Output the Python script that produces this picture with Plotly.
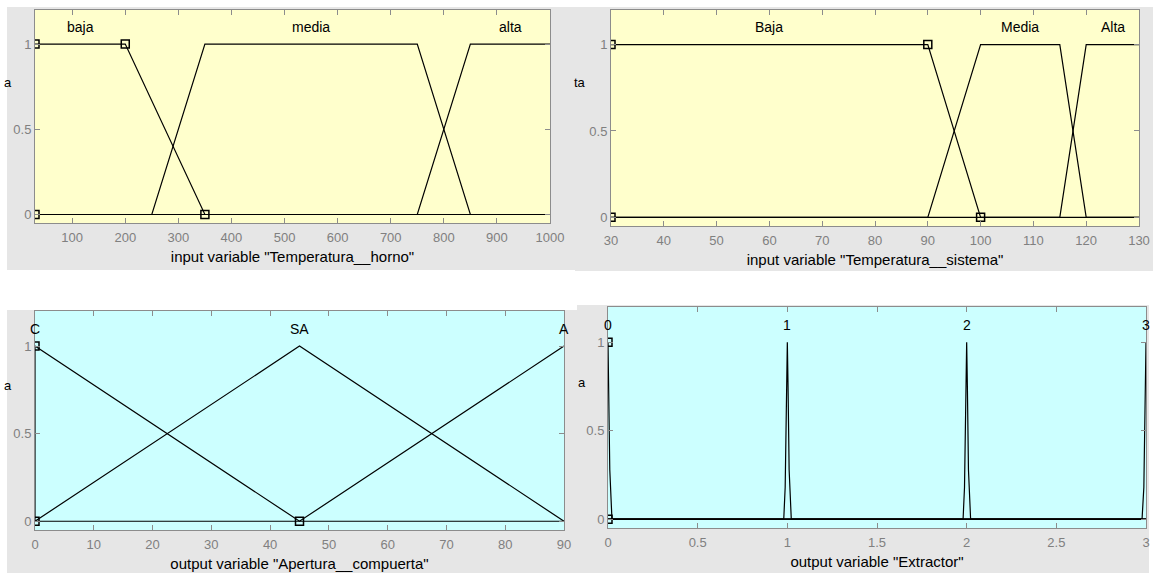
import plotly.graph_objects as go

W, H = 1153, 573

# ---------------- data ----------------
# Panel 1: input "Temperatura__horno"
horno_range = [30, 1000]
horno_ticks = [100, 200, 300, 400, 500, 600, 700, 800, 900, 1000]
horno_names = ["baja", "media", "alta"]
horno_label_x = [115, 550, 925]
horno_mf_x = [[30, 30, 200, 350, 1000],
              [30, 250, 350, 750, 850, 1000],
              [30, 750, 850, 1000]]
horno_mf_y = [[1, 1, 1, 0, 0],
              [0, 0, 1, 1, 0, 0],
              [0, 0, 1, 1]]
horno_sel_x = [30, 30, 200, 350]
horno_sel_y = [0, 1, 1, 0]

# Panel 2: input "Temperatura__sistema"
sist_range = [30, 130]
sist_ticks = [30, 40, 50, 60, 70, 80, 90, 100, 110, 120, 130]
sist_names = ["Baja", "Media", "Alta"]
sist_label_x = [60, 107.5, 125]
sist_mf_x = [[30, 30, 90, 100, 130],
             [30, 90, 100, 115, 120, 130],
             [30, 115, 120, 130]]
sist_mf_y = [[1, 1, 1, 0, 0],
             [0, 0, 1, 1, 0, 0],
             [0, 0, 1, 1]]
sist_sel_x = [30, 30, 90, 100]
sist_sel_y = [0, 1, 1, 0]

# Panel 3: output "Apertura__compuerta"
ap_range = [0, 90]
ap_ticks = [0, 10, 20, 30, 40, 50, 60, 70, 80, 90]
ap_names = ["C", "SA", "A"]
ap_label_x = [0, 45, 90]
ap_mf_x = [[0, 0, 45, 90],
           [0, 45, 90],
           [0, 45, 90, 90]]
ap_mf_y = [[0, 1, 0, 0],
           [0, 1, 0],
           [0, 0, 1, 1]]
ap_sel_x = [0, 0, 45]
ap_sel_y = [0, 1, 0]

# Panel 4: output "Extractor" (narrow spikes at 0,1,2,3)
ex_range = [0, 3]
ex_ticks = [0, 0.5, 1, 1.5, 2, 2.5, 3]
ex_tick_text = ["0", "0.5", "1", "1.5", "2", "2.5", "3"]
ex_names = ["0", "1", "2", "3"]
ex_label_x = [0, 1, 2, 3]
ex_mf_x = [[0, 0.004, 0.01, 0.022, 3],
           [0, 0.98, 0.988, 0.996, 1, 1.004, 1.01, 1.022, 3],
           [0, 1.98, 1.988, 1.996, 2, 2.004, 2.01, 2.022, 3],
           [0, 2.978, 2.988, 2.996, 3]]
ex_mf_y = [[1, 0.75, 0.28, 0, 0],
           [0, 0, 0.18, 0.83, 1, 0.75, 0.28, 0, 0],
           [0, 0, 0.18, 0.83, 1, 0.75, 0.28, 0, 0],
           [0, 0, 0.18, 0.83, 1]]
ex_sel_x = [0, 0]
ex_sel_y = [0, 1]

titles = ['input variable "Temperatura__horno"',
          'input variable "Temperatura__sistema"',
          'output variable "Apertura__compuerta"',
          'output variable "Extractor"']

# ---------------- layout geometry (pixels) ----------------
plot_px = [(35, 550, 10, 223), (611, 1139, 10, 226),
           (35, 564, 311, 530), (608, 1146, 307, 528)]
panel_px = [(7, 575, 7, 270), (575, 1153, 7, 271),
            (7, 577, 310, 573), (577, 1149, 305, 573)]
plot_bg = ["#ffffcc", "#ffffcc", "#ccffff", "#ccffff"]
FIG_GRAY = "#e6e6e6"
AX_GRAY = "#8c8c8c"
TICKTXT = "#808080"
FONT = "Liberation Sans, Arial, sans-serif"


def px_x(v):
    return v / W


def px_y(v):
    return 1 - v / H


fig = go.Figure()
shapes = []
for (x0, x1, y0, y1) in panel_px:
    shapes.append(dict(type="rect", xref="paper", yref="paper", layer="below",
                       x0=px_x(x0), x1=px_x(x1), y0=px_y(y1), y1=px_y(y0),
                       fillcolor=FIG_GRAY, line=dict(width=0)))
for (x0, x1, y0, y1), bg in zip(plot_px, plot_bg):
    shapes.append(dict(type="rect", xref="paper", yref="paper", layer="below",
                       x0=px_x(x0), x1=px_x(x1), y0=px_y(y1), y1=px_y(y0),
                       fillcolor=bg, line=dict(width=0)))

panels = [
    (horno_range, horno_ticks, [str(t) for t in horno_ticks], horno_names, horno_label_x,
     horno_mf_x, horno_mf_y, horno_sel_x, horno_sel_y),
    (sist_range, sist_ticks, [str(t) for t in sist_ticks], sist_names, sist_label_x,
     sist_mf_x, sist_mf_y, sist_sel_x, sist_sel_y),
    (ap_range, ap_ticks, [str(t) for t in ap_ticks], ap_names, ap_label_x,
     ap_mf_x, ap_mf_y, ap_sel_x, ap_sel_y),
    (ex_range, ex_ticks, ex_tick_text, ex_names, ex_label_x,
     ex_mf_x, ex_mf_y, ex_sel_x, ex_sel_y),
]

annotations = []
layout_axes = {}
for i, (rng, ticks, ticktext, names, lx, mfx, mfy, sx, sy) in enumerate(panels):
    n = i + 1
    xa = "x" if n == 1 else f"x{n}"
    ya = "y" if n == 1 else f"y{n}"
    for xs, ys in zip(mfx, mfy):
        fig.add_trace(go.Scatter(x=xs, y=ys, mode="lines", xaxis=xa, yaxis=ya,
                                 line=dict(color="black", width=1.2),
                                 showlegend=False, hoverinfo="skip"))
    fig.add_trace(go.Scatter(x=sx, y=sy, mode="markers", xaxis=xa, yaxis=ya,
                             marker=dict(symbol="square-open", size=8, color="black",
                                         line=dict(width=1.5, color="black")),
                             showlegend=False, hoverinfo="skip"))
    for name, x in zip(names, lx):
        annotations.append(dict(x=x, y=1.1, xref=xa, yref=ya, text=name,
                                showarrow=False, font=dict(size=14, color="black", family=FONT),
                                xanchor="center", yanchor="middle"))
    x0, x1, y0, y1 = plot_px[i]
    common = dict(showline=True, linecolor=AX_GRAY, linewidth=1, mirror="ticks",
                  ticks="inside", ticklen=5, tickcolor=AX_GRAY, tickwidth=1,
                  showgrid=False, zeroline=False, automargin=False,
                  tickfont=dict(size=13, color=TICKTXT, family=FONT))
    layout_axes["xaxis" if n == 1 else f"xaxis{n}"] = dict(
        domain=[px_x(x0), px_x(x1)], range=rng, anchor=ya,
        tickmode="array", tickvals=ticks, ticktext=ticktext, ticklabelstandoff=2,
        title=dict(text=titles[i], font=dict(size=15, color="black", family=FONT), standoff=7),
        **common)
    layout_axes["yaxis" if n == 1 else f"yaxis{n}"] = dict(
        domain=[px_y(y1), px_y(y0)], range=[-0.05, 1.2], anchor=xa,
        tickmode="array", tickvals=[0, 0.5, 1], ticktext=["0", "0.5", "1"],
        **common)

# truncated y-axis labels visible at the panel edges
for txt, (px, py) in zip(["a", "ta", "a", "a"], [(8, 83), (580, 83), (8, 385), (582, 382)]):
    annotations.append(dict(x=px_x(px), y=px_y(py), xref="paper", yref="paper", text=txt,
                            showarrow=False, font=dict(size=13, color="black", family=FONT),
                            xanchor="center", yanchor="middle"))

fig.update_layout(width=W, height=H, margin=dict(l=0, r=0, t=0, b=0, autoexpand=False),
                  paper_bgcolor="white", plot_bgcolor="rgba(0,0,0,0)",
                  shapes=shapes, annotations=annotations, showlegend=False,
                  font=dict(family=FONT), **layout_axes)

fig.write_html("out.html", config={"displayModeBar": False},
               post_script="document.body.style.margin='0px';"
                           "document.body.style.overflow='hidden';")
